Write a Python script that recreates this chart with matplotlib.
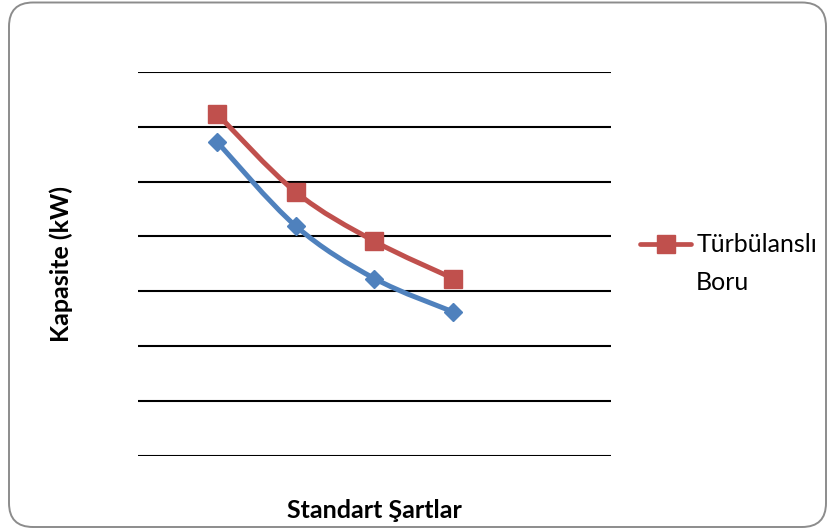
import matplotlib.pyplot as plt
import numpy as np
from matplotlib.path import Path
from matplotlib.patches import PathPatch, FancyBboxPatch
from matplotlib.lines import Line2D

plt.rcParams['font.family'] = ['Lato', 'DejaVu Sans']

# Kapasite değerleri (eksen etiketsiz, ızgara birimi cinsinden)
noktalar = [1, 2, 3, 4]
turbulansli = [6.24, 4.81, 3.91, 3.23]
duz_boru = [5.73, 4.19, 3.23, 2.62]

kirmizi = '#C0504D'
mavi = '#4F81BD'
W, H = 828, 531


def yumusak_yol(x, y):
    # Excel'deki "düzgün çizgi" gibi Catmull-Rom -> Bezier dönüşümü
    p = np.column_stack([x, y]).astype(float)
    p_ext = np.vstack([p[0], p, p[-1]])
    verts = [p[0]]
    codes = [Path.MOVETO]
    for i in range(1, len(p_ext) - 2):
        p0, p1, p2, p3 = p_ext[i - 1], p_ext[i], p_ext[i + 1], p_ext[i + 2]
        c1 = p1 + (p2 - p0) / 6
        c2 = p2 - (p3 - p1) / 6
        verts += [c1, c2, p2]
        codes += [Path.CURVE4] * 3
    return Path(verts, codes)


fig = plt.figure(figsize=(W / 100, H / 100), dpi=100)

# dış çerçeve (yuvarlak köşeli)
bg = fig.add_axes([0, 0, 1, 1])
bg.set_xlim(0, W)
bg.set_ylim(H, 0)
bg.axis('off')
bg.add_patch(FancyBboxPatch((9, 2.5), 817, 524.5,
                            boxstyle='round,pad=0,rounding_size=24',
                            fc='white', ec='#8c8c8c', lw=1.4))

ax = fig.add_axes([138 / W, 1 - 455.5 / H, (611 - 138) / W, (455.5 - 72) / H])
ax.patch.set_alpha(0)
ax.set_xlim(0, 6)
ax.set_ylim(0, 7)

for yy in range(0, 8):
    ax.axhline(yy, color='black', lw=1.5, zorder=1)

ax.add_patch(PathPatch(yumusak_yol(noktalar, duz_boru), fill=False,
                       ec=mavi, lw=3.6, capstyle='round', zorder=3))
ax.plot(noktalar, duz_boru, ls='none', marker='D', ms=9.5, color=mavi, zorder=4)

ax.add_patch(PathPatch(yumusak_yol(noktalar, turbulansli), fill=False,
                       ec=kirmizi, lw=3.6, capstyle='round', zorder=3))
ax.plot(noktalar, turbulansli, ls='none', marker='s', ms=13.5, color=kirmizi, zorder=4)

for s in ax.spines.values():
    s.set_visible(False)
ax.set_xticks([])
ax.set_yticks([])

ax.set_ylabel('Kapasite (kW)', fontsize=18, fontweight='bold', labelpad=47)
ax.set_xlabel('Standart Şartlar', fontsize=18, fontweight='bold', labelpad=31)

# gösterge: yalnızca kırmızı seri, etiket iki satır
handle = Line2D([], [], color=kirmizi, lw=3.4, marker='s', ms=13,
                solid_capstyle='round')
leg = ax.legend([handle], ['Türbülanslı'], loc='center left',
                bbox_to_anchor=(640 / W, 1 - 245 / H), bbox_transform=fig.transFigure,
                frameon=False, fontsize=18, handlelength=2.05,
                handletextpad=0.2, borderpad=0, borderaxespad=0)

fig.canvas.draw()
bb = leg.get_texts()[0].get_window_extent()
fig.text(bb.x0 / W, 1 - 283 / H, 'Boru', fontsize=18, ha='left', va='center')

fig.savefig('out.png', dpi=100)
